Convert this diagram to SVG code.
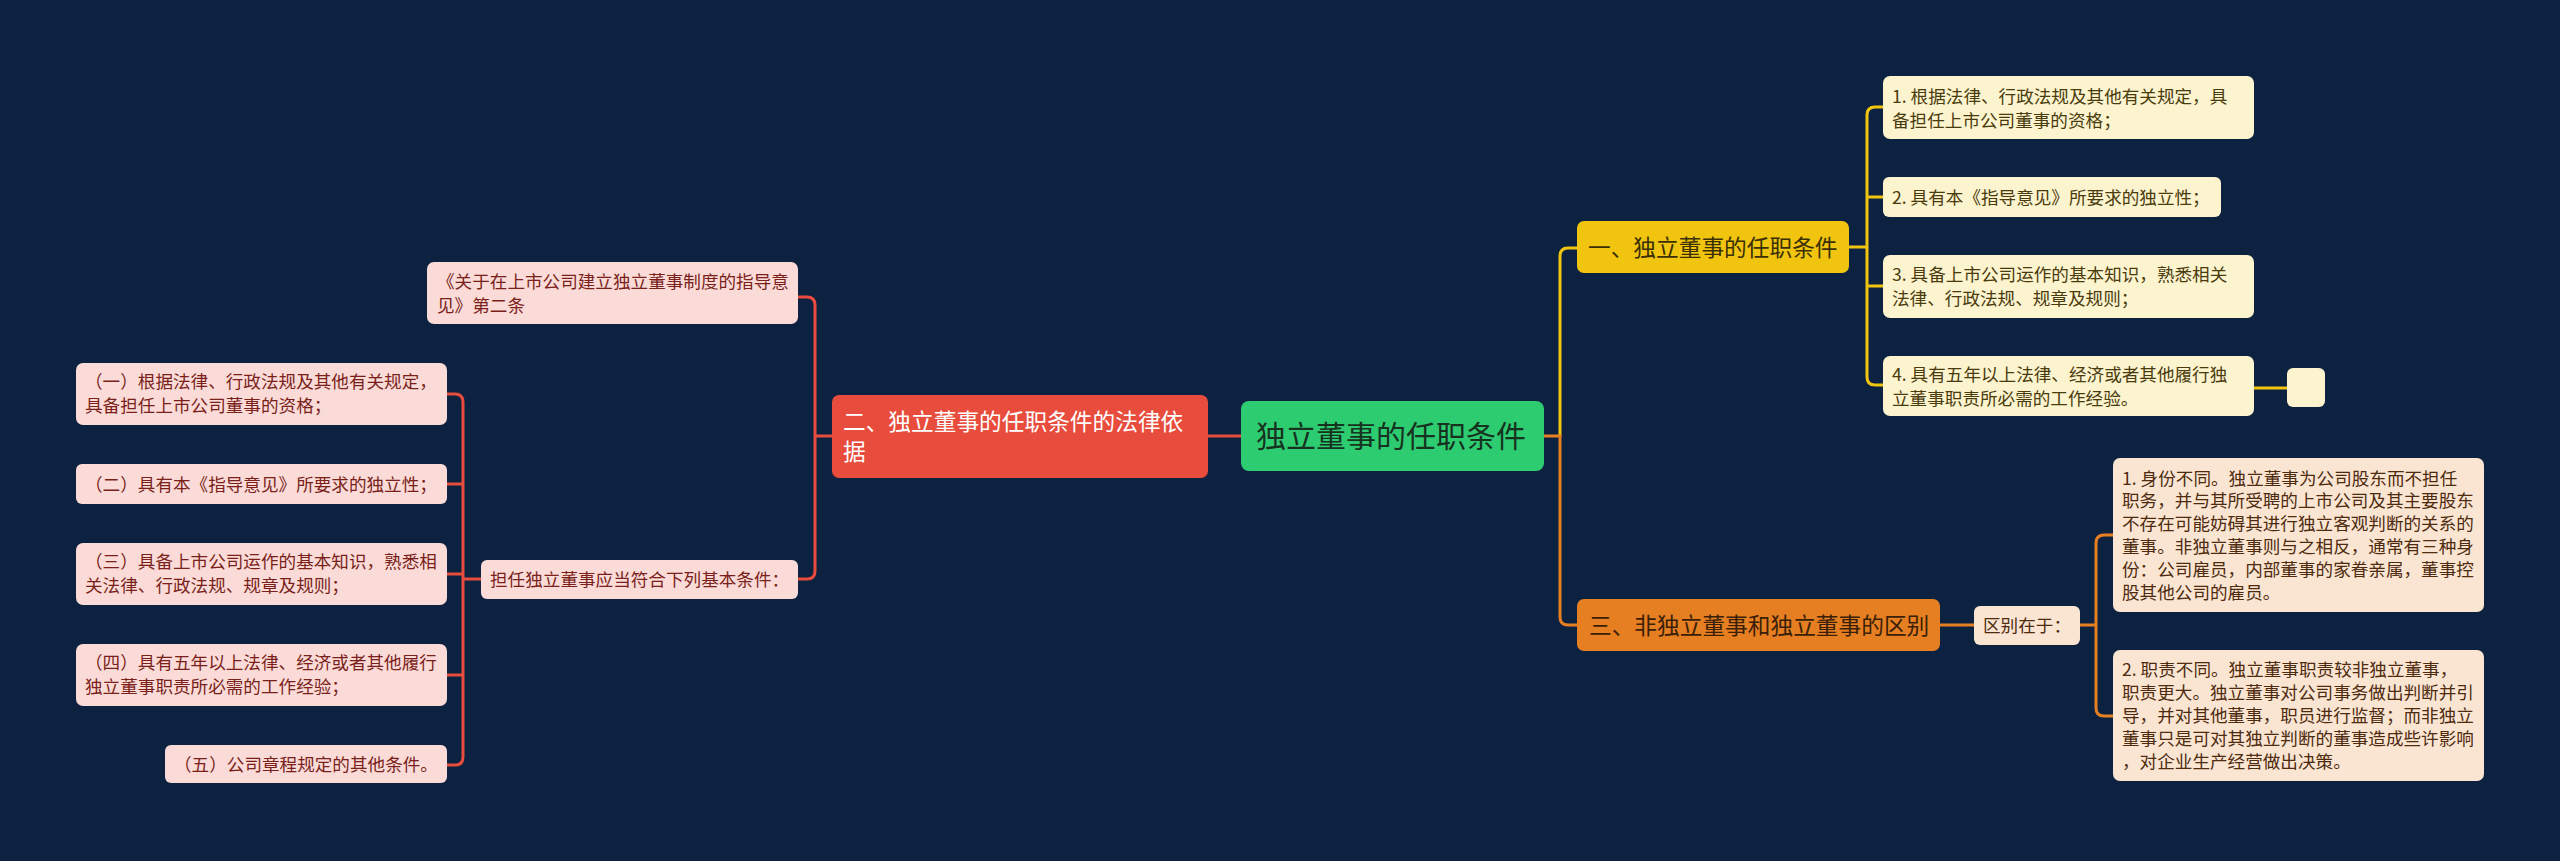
<svg xmlns="http://www.w3.org/2000/svg" width="2560" height="861" viewBox="0 0 2560 861">
<style>
text{font-family:"Noto Sans CJK SC","Noto Sans",sans-serif}
.c{fill:none;stroke-width:3;stroke-linecap:round;stroke-linejoin:round}
.r{stroke:#e74c3c}.y{stroke:#f1c40f}.o{stroke:#e67e22}
.pl{fill:#fadbd8}.pt{fill:#7a1f1a;font-size:17.6px}
.yl{fill:#fcf3cf}.yt{fill:#4a3b0c;font-size:17.6px}
.ol{fill:#fae5d3}.ot{fill:#4e2b0e;font-size:17.6px}
</style>
<rect width="2560" height="861" fill="#0d2240"/>
<g id="connectors">
<path class="c r" d="M1241,436 H1208"/>
<path class="c r" d="M832,436 H815 M798,297 H807 Q815,297 815,305 V571 Q815,579 807,579 H798"/>
<path class="c r" d="M481,579 H463 M447,394 H455 Q463,394 463,402 V757 Q463,765 455,765 H447 M447,484 H463 M447,574 H463 M447,675 H463"/>
<path class="c y" d="M1560,436 V256 Q1560,248 1568,248 H1577"/>
<path class="c y" d="M1849,247 H1867 M1883,107 H1875 Q1867,107 1867,115 V377 Q1867,385 1875,385 H1883 M1867,197 H1883 M1867,286 H1883"/>
<path class="c y" d="M2254,388 H2287"/>
<path class="c o" d="M1544,436 H1560 V617 Q1560,625 1568,625 H1577"/>
<path class="c o" d="M1940,625 H1974"/>
<path class="c o" d="M2080,625 H2096 M2113,535 H2104 Q2096,535 2096,543 V708 Q2096,716 2104,716 H2113"/>
</g>
<g id="root">
<rect x="1241" y="401" width="303" height="70" rx="8" fill="#2ecc71"/>
<text x="1256" y="447" font-size="30" fill="#16331f">独立董事的任职条件</text>
</g>
<g id="n2">
<rect x="832" y="395" width="376" height="83" rx="7" fill="#e74c3c"/>
<text x="843" y="430" font-size="22.7" fill="#ffffff">二、独立董事的任职条件的法律依</text>
<text x="843" y="460" font-size="22.7" fill="#ffffff">据</text>
</g>
<g id="n2a">
<rect class="pl" x="427" y="262" width="371" height="62" rx="7"/>
<text class="pt" x="437" y="287.5">《关于在上市公司建立独立董事制度的指导意</text>
<text class="pt" x="437" y="311.5">见》第二条</text>
</g>
<g id="n2b">
<rect class="pl" x="481" y="560" width="317" height="39" rx="6"/>
<text class="pt" x="490" y="586">担任独立董事应当符合下列基本条件：</text>
</g>
<g id="b1">
<rect class="pl" x="76" y="363" width="371" height="62" rx="7"/>
<text class="pt" x="85" y="388">（一）根据法律、行政法规及其他有关规定，</text>
<text class="pt" x="85" y="412">具备担任上市公司董事的资格；</text>
</g>
<g id="b2">
<rect class="pl" x="76" y="464" width="371" height="40" rx="6"/>
<text class="pt" x="85" y="490.5">（二）具有本《指导意见》所要求的独立性；</text>
</g>
<g id="b3">
<rect class="pl" x="76" y="543" width="371" height="62" rx="7"/>
<text class="pt" x="85" y="568">（三）具备上市公司运作的基本知识，熟悉相</text>
<text class="pt" x="85" y="592">关法律、行政法规、规章及规则；</text>
</g>
<g id="b4">
<rect class="pl" x="76" y="644" width="371" height="62" rx="7"/>
<text class="pt" x="85" y="669">（四）具有五年以上法律、经济或者其他履行</text>
<text class="pt" x="85" y="693">独立董事职责所必需的工作经验；</text>
</g>
<g id="b5">
<rect class="pl" x="165" y="745" width="282" height="38" rx="6"/>
<text class="pt" x="174" y="770.5">（五）公司章程规定的其他条件。</text>
</g>
<g id="n1">
<rect x="1577" y="221" width="272" height="52" rx="7" fill="#f1c40f"/>
<text x="1588" y="255.5" font-size="22.7" fill="#3b3005">一、独立董事的任职条件</text>
</g>
<g id="y1">
<rect class="yl" x="1883" y="76" width="371" height="63" rx="7"/>
<text class="yt" x="1892" y="102.5">1. 根据法律、行政法规及其他有关规定，具</text>
<text class="yt" x="1892" y="126.5">备担任上市公司董事的资格；</text>
</g>
<g id="y2">
<rect class="yl" x="1883" y="177" width="338" height="40" rx="6"/>
<text class="yt" x="1892" y="203.5">2. 具有本《指导意见》所要求的独立性；</text>
</g>
<g id="y3">
<rect class="yl" x="1883" y="255" width="371" height="63" rx="7"/>
<text class="yt" x="1892" y="281">3. 具备上市公司运作的基本知识，熟悉相关</text>
<text class="yt" x="1892" y="305">法律、行政法规、规章及规则；</text>
</g>
<g id="y4">
<rect class="yl" x="1883" y="356" width="371" height="60" rx="7"/>
<text class="yt" x="1892" y="380.5">4. 具有五年以上法律、经济或者其他履行独</text>
<text class="yt" x="1892" y="404.5">立董事职责所必需的工作经验。</text>
</g>
<g id="y5">
<rect class="yl" x="2287" y="368" width="38" height="39" rx="6"/>
</g>
<g id="n3">
<rect x="1577" y="599" width="363" height="52" rx="7" fill="#e67e22"/>
<text x="1589" y="633.5" font-size="22.7" fill="#3a2008">三、非独立董事和独立董事的区别</text>
</g>
<g id="n3a">
<rect class="ol" x="1974" y="606" width="106" height="39" rx="6"/>
<text class="ot" x="1983" y="632">区别在于：</text>
</g>
<g id="o1">
<rect class="ol" x="2113" y="458" width="371" height="154" rx="7"/>
<text class="ot" x="2122" y="484.5">1. 身份不同。独立董事为公司股东而不担任</text>
<text class="ot" x="2122" y="507.3">职务，并与其所受聘的上市公司及其主要股东</text>
<text class="ot" x="2122" y="530.1">不存在可能妨碍其进行独立客观判断的关系的</text>
<text class="ot" x="2122" y="552.9">董事。非独立董事则与之相反，通常有三种身</text>
<text class="ot" x="2122" y="575.7">份：公司雇员，内部董事的家眷亲属，董事控</text>
<text class="ot" x="2122" y="598.5">股其他公司的雇员。</text>
</g>
<g id="o2">
<rect class="ol" x="2113" y="650" width="371" height="131" rx="7"/>
<text class="ot" x="2122" y="676.4">2. 职责不同。独立董事职责较非独立董事，</text>
<text class="ot" x="2122" y="699.2">职责更大。独立董事对公司事务做出判断并引</text>
<text class="ot" x="2122" y="722">导，并对其他董事，职员进行监督；而非独立</text>
<text class="ot" x="2122" y="744.8">董事只是可对其独立判断的董事造成些许影响</text>
<text class="ot" x="2122" y="767.6">，对企业生产经营做出决策。</text>
</g>
</svg>
